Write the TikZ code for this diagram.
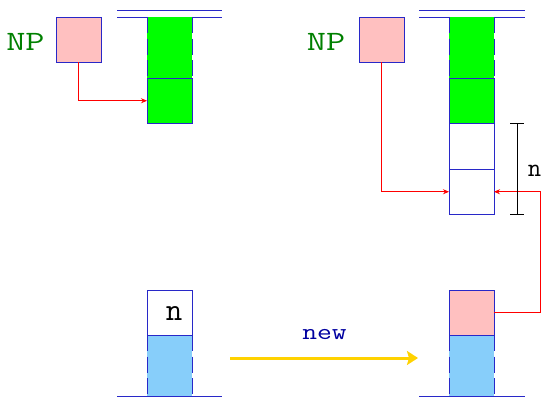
\documentclass[tikz,border=0pt]{standalone}
\usepackage{graphicx}
\usetikzlibrary{arrows.meta}
\definecolor{linecol}{RGB}{40,40,200}
\definecolor{pinkfill}{RGB}{255,192,192}
\definecolor{greenfill}{RGB}{0,255,0}
\definecolor{bluefill}{RGB}{135,206,250}
\definecolor{npgreen}{RGB}{0,128,0}
\definecolor{newblue}{RGB}{0,0,160}
\definecolor{goldline}{RGB}{255,210,0}
\definecolor{redline}{RGB}{255,0,0}
\begin{document}
\begin{tikzpicture}[x=1pt,y=-1pt,
  cell/.style={draw=linecol,line width=0.9pt,minimum width=45pt,minimum height=45.5pt,inner sep=0pt,outer sep=0pt},
  tallcell/.style={fill=#1,minimum width=45pt,minimum height=61pt,inner sep=0pt,outer sep=0pt},
  dashside/.style={draw=linecol,line width=0.9pt,dash pattern=on 16pt off 5.5pt},
  shelf/.style={draw=linecol,line width=0.9pt},
  redarrow/.style={draw=redline,line width=0.7pt,-{Stealth[length=6pt,width=5pt]}},
  nplabel/.style={text=npgreen,anchor=base,inner sep=0pt,font=\fontsize{28}{30}\selectfont\ttfamily},
  nlabel/.style={anchor=base,inner sep=0pt,font=\ttfamily}
]
\useasboundingbox (0,0) rectangle (542,402);

% ---------- top left ----------
\draw[shelf] (117,10) -- (222,10);
\draw[shelf] (117,17) -- (222,17);
\node[tallcell=greenfill] (ga1) at (169.5,47.5) {};
\draw[dashside] (ga1.north west) -- (ga1.south west);
\draw[dashside] (ga1.north east) -- (ga1.south east);
\node[cell,fill=greenfill,anchor=north] (gb1) at (ga1.south) {};
\node[cell,fill=pinkfill,minimum height=45pt] (np1) at (78.5,39.5) {};
\node[nplabel] (npt1) at (25.5,50.7) {\scalebox{1.33}[1]{NP}};
\draw[redarrow] (np1.south) |- (gb1.west);

% ---------- top right ----------
\draw[shelf] (419,10) -- (525,10);
\draw[shelf] (419,17) -- (525,17);
\node[tallcell=greenfill] (ga2) at (471.5,47.5) {};
\draw[dashside] (ga2.north west) -- (ga2.south west);
\draw[dashside] (ga2.north east) -- (ga2.south east);
\node[cell,fill=greenfill,anchor=north] (gb2) at (ga2.south) {};
\node[cell,anchor=north] (wa2) at (gb2.south) {};
\node[cell,anchor=north] (wb2) at (wa2.south) {};
\node[cell,fill=pinkfill,minimum height=45pt] (np2) at (381.5,39.5) {};
\node[nplabel] (npt2) at (326,50.7) {\scalebox{1.33}[1]{NP}};
\draw[redarrow] (np2.south) |- (wb2.west);

% ---------- bottom left ----------
\node[tallcell=bluefill] (bl1) at (169.5,365.5) {};
\draw[dashside] (bl1.north west) -- (bl1.south west);
\draw[dashside] (bl1.north east) -- (bl1.south east);
\node[cell,fill=white,anchor=south,minimum height=45pt] (wn1) at (bl1.north) {};
\node[nlabel,font=\fontsize{32}{34}\selectfont\ttfamily] (nt1) at (174,320.7) {n};
\draw[shelf] (117,396) -- (222,396);

% ---------- bottom right ----------
\node[tallcell=bluefill] (bl2) at (471.5,365.5) {};
\draw[dashside] (bl2.north west) -- (bl2.south west);
\draw[dashside] (bl2.north east) -- (bl2.south east);
\node[cell,fill=pinkfill,anchor=south,minimum height=45pt] (pk2) at (bl2.north) {};
\draw[shelf] (419,396) -- (525,396);

% ---------- new arrow ----------
\coordinate (ys) at (230,358);
\coordinate (ye) at (418,358);
\draw[draw=goldline,line width=3pt,-{Stealth[length=11pt,width=14pt,inset=2pt]}] (ys) -- (ye);
\node[anchor=base,inner sep=0pt,text=newblue,font=\fontsize{23}{25}\selectfont\ttfamily] (newt) at (324.5,339.5) {\scalebox{1.25}[1]{new}};

% ---------- return arrow ----------
\coordinate (turn) at (540.5,312.5);
\draw[redarrow] (pk2.east) -- (turn) |- (wb2.east);

% ---------- dimension n ----------
\coordinate (dt) at (517,123.5);
\coordinate (db) at (517,214);
\draw[black,line width=0.9pt] (dt) -- (db);
\draw[black,line width=0.9pt] ([xshift=-7pt]dt) -- ([xshift=7pt]dt);
\draw[black,line width=0.9pt] ([xshift=-7pt]db) -- ([xshift=7pt]db);
\node[nlabel,font=\fontsize{26}{28}\selectfont\ttfamily] (nt2) at (534.5,176.7) {n};
\end{tikzpicture}
\end{document}
